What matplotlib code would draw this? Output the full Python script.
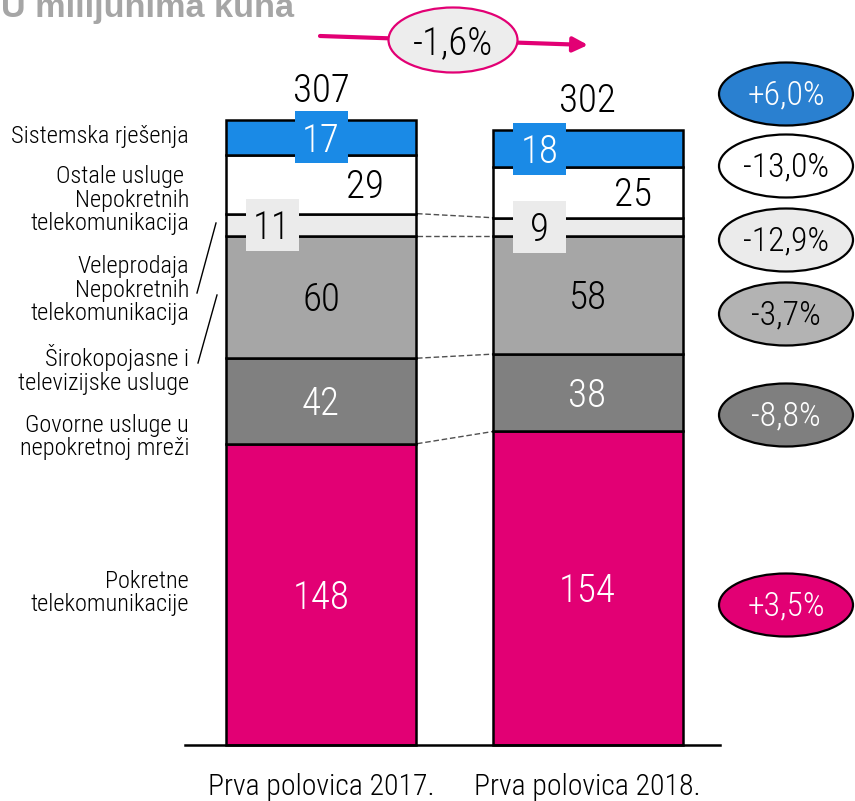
import matplotlib
matplotlib.use('Agg')
import matplotlib.pyplot as plt
from matplotlib.patches import Ellipse, Rectangle
from matplotlib import font_manager
from matplotlib.textpath import TextPath
from matplotlib.font_manager import FontProperties
import numpy as np

# ---------------- data ----------------
categories = ['Prva polovica 2017.', 'Prva polovica 2018.']
segment_labels = ['Pokretne\ntelekomunikacije',
                  'Govorne usluge u\nnepokretnoj mreži',
                  'Širokopojasne i\ntelevizijske usluge',
                  'Veleprodaja\nNepokretnih\ntelekomunikacija',
                  'Ostale usluge \nNepokretnih\ntelekomunikacija',
                  'Sistemska rješenja']
values_2017 = [148, 42, 60, 11, 29, 17]
values_2018 = [154, 38, 58, 9, 25, 18]
totals = [307, 302]
changes = ['+3,5%', '-8,8%', '-3,7%', '-12,9%', '-13,0%', '+6,0%']
total_change = '-1,6%'
title = 'U milijunima kuna'

# ---------------- style ----------------
seg_colors = ['#E20074', '#808080', '#A6A6A6', '#EBEBEB', '#FFFFFF', '#1A8AE6']
seg_text_colors = ['white', 'white', 'black', 'black', 'black', 'white']
ell_colors = ['#E20074', '#7F7F7F', '#B3B3B3', '#EBEBEB', '#FFFFFF', '#2A80D0']
ell_text_colors = ['white', 'white', 'black', 'black', 'black', 'white']

names = {f.name for f in font_manager.fontManager.ttflist}
COND = 'DejaVu Sans'
for cand in ['Roboto Condensed', 'Barlow Semi Condensed', 'IBM Plex Sans Condensed',
             'Fira Sans Condensed', 'Archivo Narrow']:
    if cand in names:
        COND = cand
        break
CW = 'light'
PW = 'light'
BOLD = 'Liberation Sans' if 'Liberation Sans' in names else 'DejaVu Sans'

W, H = 855, 801
fig = plt.figure(figsize=(W / 100, H / 100), dpi=100)
ax = fig.add_axes([0, 0, 1, 1])
S = 625 / 307.0       # px per unit
X0, DX = 321.0, 266.5  # px of category 0, px per category
ax.set_xlim(-X0 / DX, (W - X0) / DX)
ax.set_ylim(-(H - 745) / S, 745 / S)
ax.axis('off')
renderer = fig.canvas.get_renderer()

def px(xp): return (xp - X0) / DX
def py(yp): return (745 - yp) / S
def pw(w): return w / DX
def ph(h): return h / S

def fit_size(sample, target_w, family, weight):
    t = fig.text(0, 0, sample, fontsize=20, family=family, fontweight=weight)
    w = t.get_window_extent(renderer).width
    t.remove()
    return 20 * target_w / w

def fit_height(sample, target_h, family, weight):
    tp = TextPath((0, 0), sample, size=100, prop=FontProperties(family=family, weight=weight))
    h = tp.get_extents().height
    return 100 * target_h / (h * 100 / 72)

BIG = fit_height('148', 28.5, COND, CW)
LBL = fit_size('Sistemska rješenja', 178, COND, CW)
CAT = fit_size('Prva polovica 2017.', 226, COND, CW)
PCT = fit_size('-13,0%', 86, COND, PW)
TTL = fit_size(title, 292, BOLD, 'bold')

x = np.arange(len(categories))
vals = np.array([values_2017, values_2018]).T  # segments x categories
bottoms = np.zeros(len(categories))
cum = [bottoms.copy()]
bar_w = pw(190)
for i in range(vals.shape[0]):
    ax.bar(x, vals[i], bottom=bottoms, width=bar_w, color=seg_colors[i],
           edgecolor='black', linewidth=1.8, zorder=2)
    bottoms = bottoms + vals[i]
    cum.append(bottoms.copy())

# value labels
cap_big = 14.2  # half digit height in px
xoff = {3: [-49, -48], 4: [44, 45.5], 5: [0, -48]}
for i in range(vals.shape[0]):
    for j in range(len(categories)):
        mid = cum[i][j] + vals[i][j] / 2
        cx = x[j] + pw(xoff.get(i, [0, 0])[j])
        if i in (3, 5):
            ax.add_patch(Rectangle((cx - pw(26.5), mid - ph(26)), pw(53), ph(52),
                                   facecolor=seg_colors[i], edgecolor='none', zorder=3))
        ax.text(cx, mid - ph(cap_big), str(vals[i][j]), ha='center', va='baseline',
                fontsize=BIG, family=COND, fontweight=CW, color=seg_text_colors[i], zorder=4)

# totals
for j in range(len(categories)):
    ax.text(x[j], totals[j] + ph(18), str(totals[j]), ha='center', va='baseline',
            fontsize=BIG, family=COND, fontweight=CW, color='black', zorder=4)

# dashed connectors
for k in range(1, 5):
    ax.plot([px(417), px(493)], [cum[k][0], cum[k][1]], ls=(0, (4, 2)),
            color='#505050', lw=1.0, zorder=1)

# baseline
ax.plot([px(185), px(720)], [0, 0], color='black', lw=1.8, zorder=3)

# category labels
for j, c in enumerate(categories):
    ax.text(x[j], py(795), c, ha='center', va='baseline', fontsize=CAT,
            family=COND, fontweight=CW, color='black')

# left segment labels
label_y = [593, 437, 369.5, 290, 200, 137]
for i, lab in enumerate(segment_labels):
    ax.text(px(189), py(label_y[i]), lab, ha='right', va='center', multialignment='right',
            fontsize=LBL, family=COND, fontweight=CW, linespacing=1.05, color='black')

# slanted pointer lines
ax.plot([px(216), px(197)], [py(223), py(293)], color='black', lw=1.0)
ax.plot([px(217), px(198)], [py(295), py(363)], color='black', lw=1.0)

# change ellipses
ell_y = [605, 415, 314, 240, 166, 94]
for i, ch in enumerate(changes):
    ax.add_patch(Ellipse((px(786), py(ell_y[i])), pw(134), ph(63),
                         facecolor=ell_colors[i], edgecolor='black', lw=1.6, zorder=3))
    ax.text(px(786), py(ell_y[i]) - ph(10), ch, ha='center', va='baseline',
            fontsize=PCT, family=COND, fontweight=PW, color=ell_text_colors[i], zorder=4)

# total change arrow
ax.annotate('', xy=(px(588), py(45)), xytext=(px(320), py(36)),
            arrowprops=dict(arrowstyle='-|>', color='#E20074', lw=3, mutation_scale=22,
                            shrinkA=0, shrinkB=0), zorder=2)
ax.add_patch(Ellipse((px(453), py(40)), pw(129), ph(65), facecolor='#EDEDED',
                     edgecolor='#E20074', lw=1.6, zorder=3))
ax.text(px(453), py(40) - ph(14), total_change, ha='center', va='baseline',
        fontsize=BIG, family=COND, fontweight=CW, color='black', zorder=4)

# title
ax.text(px(1), py(17), title, ha='left', va='baseline', fontsize=TTL,
        fontweight='bold', family=BOLD, color='#A6A6A6')

fig.savefig('out.png', dpi=100)
